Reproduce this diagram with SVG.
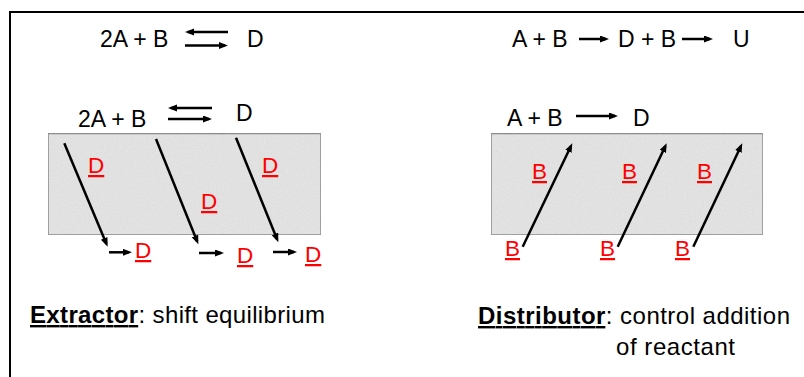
<svg xmlns="http://www.w3.org/2000/svg" width="804" height="377" viewBox="0 0 804 377">
<defs>
<style>
.t{font-family:"Liberation Sans",Arial,sans-serif;font-size:23px;fill:#000}
.c{font-family:"Liberation Sans",Arial,sans-serif;font-size:24px;fill:#000}
.r{font-family:"Liberation Sans",Arial,sans-serif;font-size:22.5px;fill:#ff0000;text-decoration:underline}
.b{font-weight:bold;text-decoration:underline}
.box{fill:#e8e8e8;stroke:#7f7f7f;stroke-width:1.5}
.a{stroke:#000;stroke-width:2.5;fill:none;marker-end:url(#ah)}
</style>
<marker id="ah" markerUnits="userSpaceOnUse" markerWidth="10" markerHeight="8" refX="6" refY="3.5" orient="auto">
<path d="M0,0 L9,3.5 L0,7 z" fill="#000"/>
</marker>
<filter id="noise" x="0" y="0" width="100%" height="100%">
<feTurbulence type="fractalNoise" baseFrequency="0.9" numOctaves="2" result="n"/>
<feColorMatrix in="n" type="matrix" values="0 0 0 0 0.5  0 0 0 0 0.5  0 0 0 0 0.5  0 0 0 0.35 0" result="g"/>
<feComposite in="g" in2="SourceGraphic" operator="atop"/>
</filter>
</defs>
<rect width="804" height="377" fill="#fff"/>
<path d="M10,377 V12 H804" fill="none" stroke="#000" stroke-width="2"/>

<g id="eq-left-top">
<text class="t" x="100" y="47">2A + B</text>
<text class="t" x="247" y="47">D</text>
</g>
<g id="eq-left-box">
<text class="t" x="78" y="127">2A + B</text>
<text class="t" x="236" y="121">D</text>
</g>
<g id="eq-right-top">
<text class="t" x="512" y="47">A + B</text>
<text class="t" x="618" y="47">D + B</text>
<text class="t" x="733" y="47">U</text>
</g>
<g id="eq-right-box">
<text class="t" x="507" y="126">A + B</text>
<text class="t" x="633" y="126">D</text>
</g>

<g id="extractor">
<rect class="box" x="48" y="133.5" width="273" height="101.5" filter="url(#noise)"/>
<text class="r" x="88" y="173">D</text>
<text class="r" x="201" y="209">D</text>
<text class="r" x="262" y="173">D</text>
<text class="r" x="135" y="258">D</text>
<text class="r" x="237" y="263">D</text>
<text class="r" x="305" y="262">D</text>
</g>
<g id="distributor">
<rect class="box" x="491" y="133.5" width="272" height="101.5" filter="url(#noise)"/>
<text class="r" x="532" y="179">B</text>
<text class="r" x="622" y="179">B</text>
<text class="r" x="697" y="179">B</text>
<text class="r" x="505" y="256">B</text>
<text class="r" x="600" y="256">B</text>
<text class="r" x="675" y="256">B</text>
</g>

<g id="connectors">
<line class="a" x1="228" y1="32" x2="188" y2="32"/>
<line class="a" x1="185" y1="45.5" x2="225" y2="45.5"/>
<line class="a" x1="212" y1="108" x2="171" y2="108"/>
<line class="a" x1="168" y1="119" x2="209" y2="119"/>
<line class="a" x1="579" y1="39" x2="606" y2="39"/>
<line class="a" x1="682" y1="39" x2="710" y2="39"/>
<line class="a" x1="576" y1="116" x2="615" y2="116"/>
<line class="a" x1="64.3" y1="143.3" x2="106.5" y2="243.9"/>
<line class="a" x1="156" y1="139" x2="197.2" y2="241.5"/>
<line class="a" x1="236" y1="137.7" x2="277.2" y2="239.5"/>
<line class="a" x1="109" y1="252.3" x2="129" y2="252.3"/>
<line class="a" x1="199" y1="253" x2="221" y2="253"/>
<line class="a" x1="273" y1="252" x2="294" y2="252"/>
<line class="a" x1="522.7" y1="246.7" x2="571" y2="146"/>
<line class="a" x1="617.7" y1="246.7" x2="665.4" y2="146"/>
<line class="a" x1="693.3" y1="246.7" x2="741" y2="146"/>
</g>

<g id="captions">
<text class="c" x="30" y="323" textLength="295" lengthAdjust="spacing"><tspan class="b">Extractor</tspan>: shift equilibrium</text>
<text class="c" x="478" y="324" textLength="312" lengthAdjust="spacing"><tspan class="b">Distributor</tspan>: control addition</text>
<text class="c" x="616" y="355" textLength="119" lengthAdjust="spacing">of reactant</text>
</g>
</svg>
